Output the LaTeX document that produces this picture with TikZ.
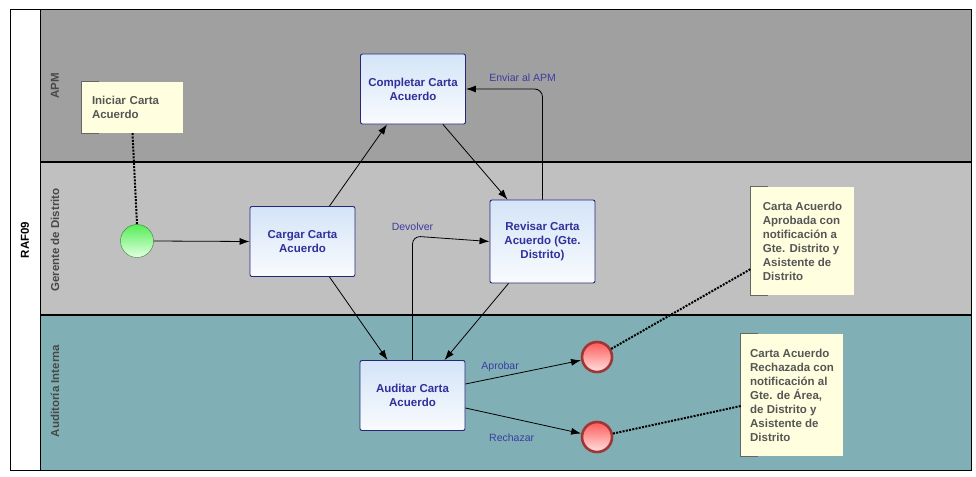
\documentclass[tikz,border=0pt]{standalone}
\usepackage{fontspec}
\setmainfont{Liberation Sans}
\usetikzlibrary{arrows.meta, positioning, calc, backgrounds}
\usepackage{xcolor}
\definecolor{ink}{HTML}{000000}
\definecolor{laneapm}{HTML}{A0A0A0}
\definecolor{lanegte}{HTML}{C0C0C0}
\definecolor{laneaud}{HTML}{80B0B5}
\definecolor{lanetext}{HTML}{484848}
\definecolor{tasktop}{HTML}{D4E4F7}
\definecolor{taskbot}{HTML}{F9FBFE}
\definecolor{taskline}{HTML}{26267A}
\definecolor{tasktext}{HTML}{30309A}
\definecolor{notefill}{HTML}{FFFFE0}
\definecolor{notetext}{HTML}{555555}
\definecolor{lbltext}{HTML}{3C3CA0}
\definecolor{starttop}{HTML}{55EE55}
\definecolor{startbot}{HTML}{E2FFE2}
\definecolor{startline}{HTML}{3A7A3A}
\definecolor{endtop}{HTML}{FF5A5A}
\definecolor{endbot}{HTML}{FFE2E2}
\definecolor{endline}{HTML}{A03535}

\begin{document}
\begin{tikzpicture}[x=1pt, y=-1pt,
  task/.style={draw=taskline, top color=tasktop, bottom color=taskbot, rounded corners=2pt,
               align=center, font=\fontsize{11.5}{14}\selectfont\bfseries, text=tasktext,
               minimum width=105pt, minimum height=70pt, line width=0.9pt},
  note/.style={fill=notefill, align=left, font=\fontsize{11.5}{14}\selectfont\bfseries,
               text=notetext, inner sep=0pt},
  brk/.style={draw=ink!60, line width=1pt},
  startev/.style={circle, draw=startline, top color=starttop, bottom color=startbot,
                  minimum size=33pt, inner sep=0pt},
  endev/.style={circle, draw=endline, line width=2.6pt, top color=endtop, bottom color=endbot,
                minimum size=30pt, inner sep=0pt},
  lane/.style={rotate=90, font=\fontsize{11.5}{13}\selectfont\bfseries, text=lanetext},
  arr/.style={-{Latex[length=10pt, width=7pt]}, line width=0.8pt, draw=ink},
  assoc/.style={line width=2pt, dash pattern=on 2pt off 1.3pt, draw=ink},
  lbl/.style={font=\fontsize{10.5}{12}\selectfont, text=lbltext, inner sep=2pt}
]
\useasboundingbox (0,0) rectangle (976,476);

% lanes
\fill[white] (10,10) rectangle (40,470);
\fill[laneapm] (40,10) rectangle (971,162);
\fill[lanegte] (40,162) rectangle (971,315);
\fill[laneaud] (40,315) rectangle (971,470);
\draw[line width=1pt] (10,10) rectangle (971,470);
\draw[line width=1pt] (40,10) -- (40,470);
\draw[line width=2pt] (40,162) -- (971,162);
\draw[line width=2pt] (40,315) -- (971,315);

\node[lane, text=ink] (pool) at (25,240) {RAF09};
\node[lane] (lapm) at (55,86) {APM};
\node[lane] (lgte) at (55,240) {Gerente de Distrito};
\node[lane] (laud) at (55,391) {Auditoría Interna};

% tasks
\node[task] (carg) at (302.5,241.5) {Cargar Carta\\Acuerdo};
\node[task] (comp) at (413,89) {Completar Carta\\Acuerdo};
\node[task, minimum height=83pt] (rev) at (542.5,241.5) {Revisar Carta\\Acuerdo (Gte.\\Distrito)};
\node[task] (aud) at (412.5,395.5) {Auditar Carta\\Acuerdo};

% events
\node[startev] (ini) at (137,241) {};
\node[endev] (fin1) at (597,357) {};
\node[endev] (fin2) at (597,437) {};

% notes
\node[note, text width=81pt, inner xsep=10pt, minimum height=51pt] (nini) at (132.5,107.5) {Iniciar Carta\\Acuerdo};
\node[note, minimum width=103pt, minimum height=108pt] (napr) at (802.5,241)
  {Carta Acuerdo\\Aprobada con\\notificación a\\Gte. Distrito y\\Asistente de\\Distrito};
\node[note, minimum width=102pt, minimum height=122pt] (nrec) at (792,395)
  {Carta Acuerdo\\Rechazada con\\notificación al\\Gte. de Área,\\de Distrito y\\Asistente de\\Distrito};
\foreach \n in {nini,napr,nrec}
  \draw[brk] ([xshift=17pt]\n.north west) -- (\n.north west) -- (\n.south west) -- ([xshift=17pt]\n.south west);

% edges
\draw[arr] (ini.east) -- (carg.west);
\draw[arr] ([xshift=27pt]carg.north) -- ([xshift=-26pt]comp.south);
\draw[arr] ([xshift=30pt]comp.south) -- ([xshift=-35pt]rev.north);
\draw[arr, rounded corners=8pt] (rev.north) |- (comp.east)
  node[lbl, pos=0.63, above, yshift=5pt] {Enviar al APM};
\draw[arr, rounded corners=8pt] (aud.north) -- ++(0,-124) node[lbl, above=3pt] {Devolver} -- (rev.west);
\draw[arr] ([xshift=27pt]carg.south) -- ([xshift=-25pt]aud.north);
\draw[arr] ([xshift=-34pt]rev.south) -- ([xshift=32pt]aud.north);
\draw[arr] ([yshift=11.5pt]aud.east) -- (fin1) node[lbl, pos=0.3, above=3pt] {Aprobar};
\draw[arr] ([yshift=-12.5pt]aud.east) -- (fin2) node[lbl, pos=0.4, below=13pt] {Rechazar};

% associations
\draw[assoc] (nini.south) -- (ini.north);
\draw[assoc] (fin1) -- ([yshift=-28pt]napr.west);
\draw[assoc] (fin2) -- ([yshift=-11pt]nrec.west);

\end{tikzpicture}
\end{document}
